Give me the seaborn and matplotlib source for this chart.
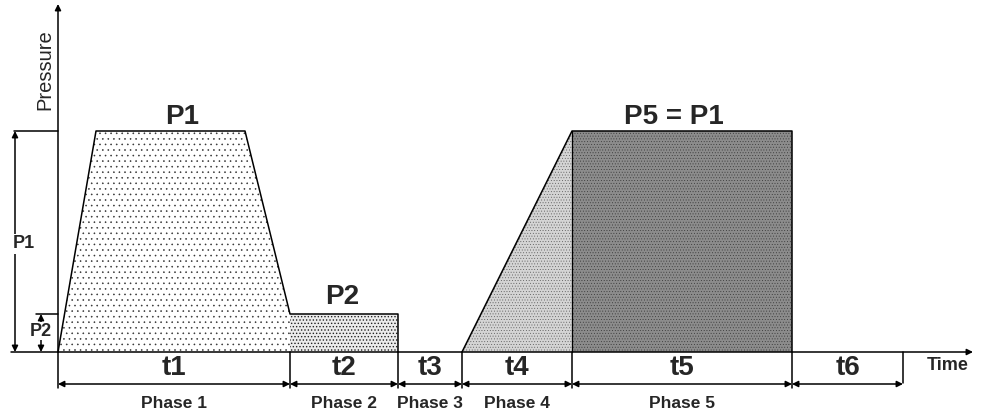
import matplotlib
matplotlib.use("Agg")
import matplotlib.pyplot as plt
import seaborn as sns
import numpy as np

sns.set_theme(style="white")
plt.rcParams['font.family'] = ['Liberation Sans', 'DejaVu Sans']

# durations of each phase (t1..t6) and pressure levels
durations = [232, 108, 64, 110, 220, 111]
t_labels = ["t1", "t2", "t3", "t4", "t5", "t6"]
phase_labels = ["Phase 1", "Phase 2", "Phase 3", "Phase 4", "Phase 5"]
P1 = 221
P2 = 38
ramp_up = 38      # rise time at start of phase 1
ramp_down = 45    # fall time at end of phase 1

edges = np.concatenate([[0], np.cumsum(durations)])
e = edges

fig = plt.figure(figsize=(9.83, 4.16), dpi=100)
ax = fig.add_axes([0, 0, 1, 1])
ax.set_xlim(-58, 925)
ax.set_ylim(-64, 352)
ax.axis('off')

# fills
ph1_x = [e[0], e[0] + ramp_up, e[1] - ramp_down, e[1]]
ph1_y = [0, P1, P1, P2]
plt.rcParams['hatch.linewidth'] = 0.4
ax.fill(ph1_x + [e[1]], ph1_y + [0], facecolor='white', edgecolor='#333333',
        linewidth=0, hatch='...')
plt.rcParams['hatch.linewidth'] = 0.6
ax.fill([e[1], e[1], e[2], e[2]], [0, P2, P2, 0], facecolor='#ececec',
        edgecolor='#222222', linewidth=0, hatch='.....')
plt.rcParams['hatch.linewidth'] = 0.3
ax.fill([e[3], e[4], e[4]], [0, P1, 0], facecolor='#d4d4d4',
        edgecolor='#555555', linewidth=0, hatch='......')
ax.fill([e[4], e[4], e[5], e[5]], [0, P1, P1, 0], facecolor='#8c8c8c',
        edgecolor='#333333', linewidth=0, hatch='......')

# pressure profile outline
prof_x = ph1_x + [e[1], e[2], e[2]]
prof_y = ph1_y + [P2, P2, 0]
sns.lineplot(x=prof_x, y=prof_y, sort=False, estimator=None, color='black',
             linewidth=1.1, ax=ax)
sns.lineplot(x=[e[3], e[4], e[5], e[5]], y=[0, P1, P1, 0], sort=False,
             estimator=None, color='black', linewidth=1.1, ax=ax)
ax.plot([e[4], e[4]], [0, P1], color='black', linewidth=0.9)

arrow_kw = dict(color='black', lw=1.1, mutation_scale=9, shrinkA=0, shrinkB=0)

# axes
ax.annotate('', xy=(0, 348), xytext=(0, 0), arrowprops=dict(arrowstyle='-|>', **arrow_kw))
ax.annotate('', xy=(915, 0), xytext=(-47, 0), arrowprops=dict(arrowstyle='-|>', **arrow_kw))
ax.text(-13, 282, "Pressure", rotation=90, ha='center', va='center', fontsize=14.5)
ax.text(890, -14, "Time", ha='center', va='center', fontsize=13, fontweight='bold')

# pressure dimension lines
ax.plot([-44, 0], [P1, P1], color='black', linewidth=1.1)
ax.plot([-22, 0], [P2, P2], color='black', linewidth=1.1)
ax.annotate('', xy=(-43, P1), xytext=(-43, 0), arrowprops=dict(arrowstyle='<|-|>', **arrow_kw))
ax.annotate('', xy=(-17, P2), xytext=(-17, 0), arrowprops=dict(arrowstyle='<|-|>', **arrow_kw))
ax.text(-34, 108, "P1", ha='center', va='center', fontsize=13, fontweight='bold',
        bbox=dict(facecolor='white', edgecolor='none', pad=1))
ax.text(-17, 21, "P2", ha='center', va='center', fontsize=13, fontweight='bold',
        bbox=dict(facecolor='white', edgecolor='none', pad=0.5))

# level labels
ax.text(124, 235, "P1", ha='center', va='center', fontsize=20, fontweight='bold')
ax.text((e[1] + e[2]) / 2 - 2, 55, "P2", ha='center', va='center', fontsize=20, fontweight='bold')
ax.text((e[4] + e[5]) / 2 - 8, 235, "P5 = P1", ha='center', va='center', fontsize=20, fontweight='bold')

# time dimension lines
for i, x in enumerate(edges):
    bottom = -36 if i < len(edges) - 1 else -31
    ax.plot([x, x], [0, bottom], color='black', linewidth=1.1)
for i, lab in enumerate(t_labels):
    ax.annotate('', xy=(e[i + 1], -32), xytext=(e[i], -32),
                arrowprops=dict(arrowstyle='<|-|>', **arrow_kw))
    ax.text((e[i] + e[i + 1]) / 2, -16, lab, ha='center', va='center',
            fontsize=20, fontweight='bold')
for i, lab in enumerate(phase_labels):
    ax.text((e[i] + e[i + 1]) / 2, -52, lab, ha='center', va='center',
            fontsize=12.5, fontweight='bold')

fig.savefig("out.png", dpi=100, facecolor='white')
